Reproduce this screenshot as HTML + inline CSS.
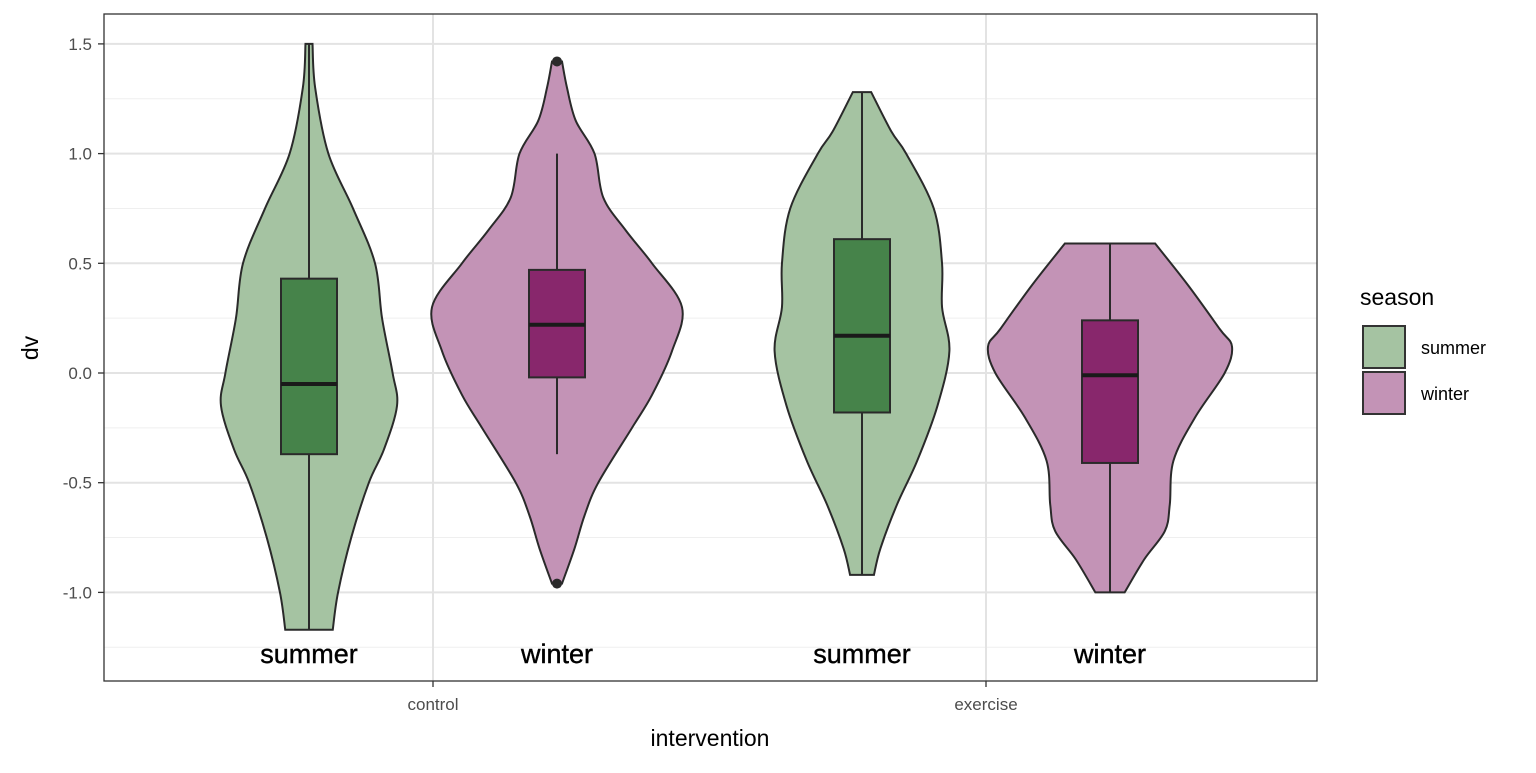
<!DOCTYPE html>
<html><head><meta charset="utf-8"><style>
body{margin:0;background:#fff;font-family:"Liberation Sans",Arial,sans-serif}
</style></head><body>
<svg id="chart" width="1536" height="768" xmlns="http://www.w3.org/2000/svg">
<g id="grid"></g>
<g id="marks"></g>
<rect x="104" y="14" width="1213" height="667" fill="none" stroke="#333" stroke-width="1.3"/>
<g id="axes"></g>
<text x="710" y="746" text-anchor="middle" font-size="23" fill="#000">intervention</text>
<text transform="translate(38,348) rotate(-90)" text-anchor="middle" font-size="23" fill="#000">dv</text>
<g>
<text x="1360" y="305" font-size="23">season</text>
<g><rect x="1363" y="326" width="42" height="42" fill="#a5c3a2" stroke="#333" stroke-width="2"/><text x="1421" y="354" font-size="18">summer</text></g>
<g><rect x="1363" y="372" width="42" height="42" fill="#c393b6" stroke="#333" stroke-width="2"/><text x="1421" y="400" font-size="18">winter</text></g>
</g>
</svg>
<script>
const groups=["control","exercise"];
const seasons=["summer","winter"];
const yTicks=[1.5,1.0,0.5,0.0,-0.5,-1.0];
const yTickLabels=["1.5","1.0","0.5","0.0","-0.5","-1.0"];
// violin profiles: [value, halfwidth-fraction]
const violinCS=[[1.5,0.04],[1.3,0.07],[1.0,0.22],[0.75,0.5],[0.5,0.75],[0.25,0.83],[0,0.95],[-0.15,1.0],[-0.35,0.85],[-0.5,0.68],[-0.75,0.48],[-1.0,0.33],[-1.17,0.27]];
const violinCW=[[1.42,0.04],[1.3,0.08],[1.15,0.15],[1.0,0.3],[0.8,0.37],[0.65,0.55],[0.5,0.76],[0.3,1.0],[0.1,0.92],[-0.1,0.76],[-0.25,0.6],[-0.5,0.33],[-0.65,0.22],[-0.8,0.14],[-0.96,0.04]];
const violinES=[[1.28,0.1],[1.1,0.32],[1.0,0.48],[0.75,0.78],[0.5,0.87],[0.3,0.87],[0.1,0.95],[-0.15,0.82],[-0.4,0.6],[-0.6,0.38],[-0.8,0.2],[-0.92,0.13]];
const violinEW=[[0.59,0.37],[0.4,0.64],[0.2,0.9],[0.12,1.0],[0.0,0.94],[-0.2,0.7],[-0.4,0.52],[-0.6,0.49],[-0.72,0.45],[-0.85,0.28],[-1.0,0.12]];
const violinMax=[88,125,92,122];
const q1=[-0.37,-0.02,-0.18,-0.41];
const med=[-0.05,0.22,0.17,-0.01];
const q3=[0.43,0.47,0.61,0.24];
const wLo=[-1.17,-0.37,-0.92,-1.0];
const wHi=[1.5,1.0,1.28,0.59];
const outliers=[[],[1.42,-0.96],[],[]];
const NS="http://www.w3.org/2000/svg";
const y=v=>373-v*219.4;
const xg=i=>433+i*553;
const dodge=124;
function el(t,a,p){const e=document.createElementNS(NS,t);for(const k in a)e.setAttribute(k,a[k]);p.appendChild(e);return e;}
const grid=document.getElementById('grid'),axes=document.getElementById('axes'),marks=document.getElementById('marks');
for(let i=0;i<yTicks.length;i++){
 const l=el('line',{x1:104,x2:1317,y1:y(yTicks[i]),y2:y(yTicks[i]),stroke:'#e3e3e3','stroke-width':2},grid);
 
 if(i<yTicks.length-1){const m=el('line',{x1:104,x2:1317,y1:y((yTicks[i]+yTicks[i+1])/2),y2:y((yTicks[i]+yTicks[i+1])/2),stroke:'#efefef','stroke-width':1},grid);
 }
 const t=el('text',{x:92,y:y(yTicks[i])+6,'text-anchor':'end','font-size':17,fill:'#4d4d4d'},axes);t.textContent=yTickLabels[i];
 
 el('line',{x1:98,x2:104,y1:y(yTicks[i]),y2:y(yTicks[i]),stroke:'#333','stroke-width':1.3},axes);
}
const mm=el('line',{x1:104,x2:1317,y1:y(-1.25),y2:y(-1.25),stroke:'#efefef'},grid);

groups.forEach((g,i)=>{
 const l=el('line',{x1:xg(i),x2:xg(i),y1:14,y2:681,stroke:'#e3e3e3','stroke-width':2},grid);
 
 el('line',{x1:xg(i),x2:xg(i),y1:681,y2:687,stroke:'#333','stroke-width':1.3},axes);
 const t=el('text',{x:xg(i),y:710,'text-anchor':'middle','font-size':17,fill:'#4d4d4d'},axes);t.textContent=g;
 
});
function smooth(pts){let d='M'+pts[0][0]+','+pts[0][1];for(let i=0;i<pts.length-1;i++){const p0=pts[Math.max(0,i-1)],p1=pts[i],p2=pts[i+1],p3=pts[Math.min(pts.length-1,i+2)];
 d+=' C'+(p1[0]+(p2[0]-p0[0])/6)+','+(p1[1]+(p2[1]-p0[1])/6)+' '+(p2[0]-(p3[0]-p1[0])/6)+','+(p2[1]-(p3[1]-p1[1])/6)+' '+p2[0]+','+p2[1];}return d;}
const profiles=[violinCS,violinCW,violinES,violinEW];
const fills=['#a5c3a2','#c393b6'],boxFill=['#46834a','#88276c'];
for(let k=0;k<4;k++){
 const gi=Math.floor(k/2),si=k%2,cx=xg(gi)+(si?dodge:-dodge),pr=profiles[k],W=violinMax[k];
 const right=pr.map(p=>[cx+p[1]*W,y(p[0])]);
 const left=pr.slice().reverse().map(p=>[cx-p[1]*W,y(p[0])]);
 let d=smooth(right)+' L'+left[0][0]+','+left[0][1]+smooth(left).replace(/^M[^ ]+/,'')+' Z';
 const v=el('path',{d:d,fill:fills[si],stroke:'#2a2a2a','stroke-width':2},marks);
 
 const w1=el('line',{x1:cx,x2:cx,y1:y(wHi[k]),y2:y(q3[k]),stroke:'#2a2a2a','stroke-width':2},marks);
 
 const w2=el('line',{x1:cx,x2:cx,y1:y(q1[k]),y2:y(wLo[k]),stroke:'#2a2a2a','stroke-width':2},marks);
 
 const b=el('rect',{x:cx-28,width:56,y:y(q3[k]),height:y(q1[k])-y(q3[k]),fill:boxFill[si],stroke:'#2a2a2a','stroke-width':2},marks);
 
 const m=el('line',{x1:cx-28,x2:cx+28,y1:y(med[k]),y2:y(med[k]),stroke:'#1a1a1a','stroke-width':4},marks);
 
 outliers[k].forEach(o=>{const c=el('circle',{cx:cx,cy:y(o),r:5,fill:'#2a2a2a'},marks);
 });
 const t=el('text',{x:cx,y:663,'text-anchor':'middle','font-size':27,fill:'#000',stroke:'#000','stroke-width':0.4},marks);t.textContent=seasons[si];
 
}
</script>
</body></html>
